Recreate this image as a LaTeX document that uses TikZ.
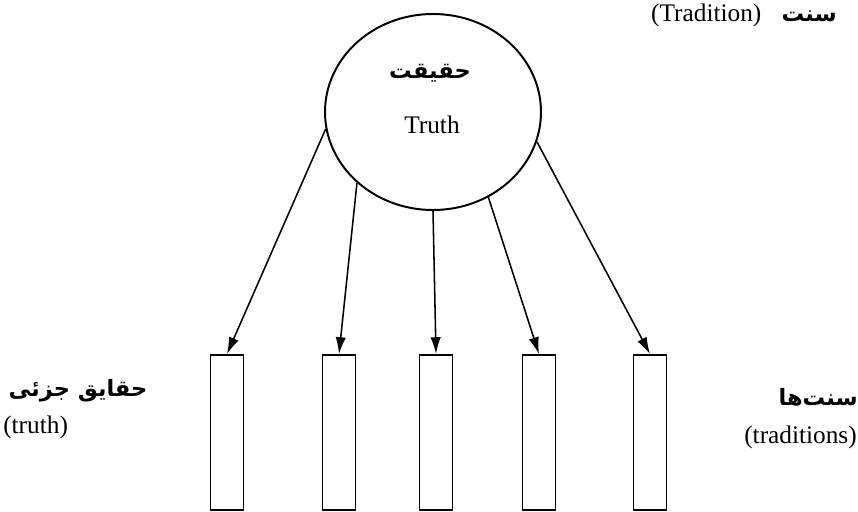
\documentclass[tikz,border=0pt]{standalone}
\usepackage{fontspec}
\setmainfont{Liberation Serif}
\newfontfamily\persianfont[Script=Arabic]{DejaVu Sans}
\TeXXeTstate=1
\usetikzlibrary{shapes.geometric,arrows.meta}

\begin{document}
\begin{tikzpicture}[
        whole/.style={ellipse,draw,line width=1.4pt,
                minimum width=5.4cm,minimum height=4.9cm},
        bar/.style={rectangle,draw,line width=1.4pt,inner sep=0pt,
                minimum width=0.825cm,minimum height=3.875cm},
        arr/.style={line width=1.1pt,-{Latex[length=4.2mm,width=2.6mm]}},
        fa/.style={inner sep=0pt,font=\fontsize{16}{19}\persianfont\bfseries},
        en/.style={inner sep=0pt,font=\fontsize{18}{21}\selectfont},
    ]
    \useasboundingbox (0,0) rectangle (21.45,12.775);

    % Title
    \node[en,anchor=east] (title) at (20.925,12.4)
        {\beginR{\fontsize{16}{19}\persianfont\bfseries سنت}\hspace{0.8em}\beginL(Tradition)\endL\endR};

    % Truth
    \node[whole] (truth) at (10.825,9.975) {};
    \node[fa] (truthfa) at (10.75,10.95) {\beginR حقیقت\endR};
    \node[en] (truthen) at (10.8,9.65) {Truth};

    % Traditions
    \foreach \x [count=\i] in {5.675,8.475,10.9,13.475,16.25} {
            \node[bar] (bar\i) at (\x,1.9625) {};
        }
    \foreach \a/\i in {189/1,223/2,270/3,303/4,344/5} {
            \draw[arr] (truth.\a) -- (bar\i.north);
        }

    % Side labels
    \node[fa] (partfa) at (1.95,3.0) {\beginR حقایق جزئی\endR};
    \node[en,anchor=west] (parten) at (0.075,2.1) {(truth)};
    \node[fa,anchor=east] (tradfa) at (21.45,2.85) {\beginR سنت‌ها\endR};
    \node[en,anchor=east] (traden) at (21.425,1.85) {(traditions)};

\end{tikzpicture}
\end{document}
